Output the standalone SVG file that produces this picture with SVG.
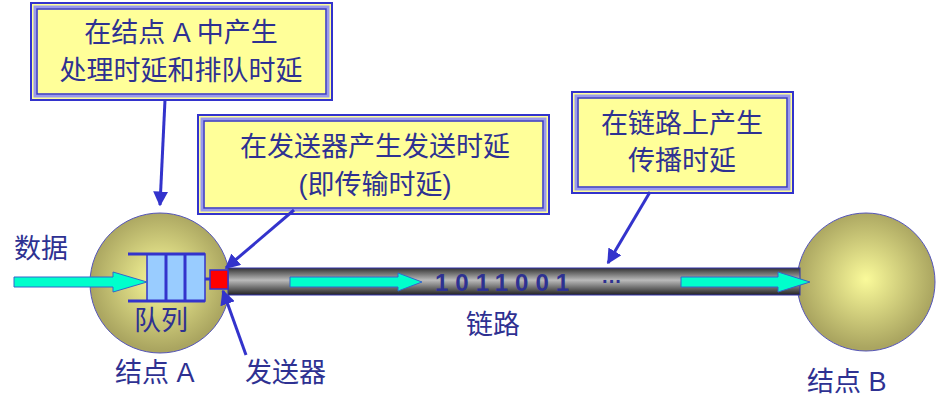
<svg xmlns="http://www.w3.org/2000/svg" width="937" height="419" viewBox="0 0 937 419">
<style>
.t{font-family:"Liberation Sans","Noto Sans CJK SC",sans-serif;fill:#2e3192;font-size:27px}
.bo{fill:#ffff99;stroke:#3333cc;stroke-width:2}
.bi{fill:none;stroke:#3333cc;stroke-width:1.5}
.bm{fill:none;stroke:#9999ee;stroke-width:3}
.ln{stroke:#3333cc;stroke-width:3;fill:none}
.ca{fill:#00ffcc;stroke:#3366cc;stroke-width:1}
</style>
<defs>
<radialGradient id="ball" cx="0.5" cy="0.48" r="0.5">
<stop offset="0" stop-color="#fafa9a"/><stop offset="1" stop-color="#aaa560"/>
</radialGradient>
<linearGradient id="pipe" x1="0" y1="0" x2="0" y2="1">
<stop offset="0" stop-color="#333"/><stop offset="0.45" stop-color="#bbb"/><stop offset="1" stop-color="#222"/>
</linearGradient>
<marker id="ah" viewBox="0 0 10 10" refX="9" refY="5" markerWidth="5" markerHeight="5" orient="auto"><path d="M0,0L10,5L0,10z" fill="#3333cc"/></marker>
</defs>
<g id="nodeA"><circle cx="160" cy="283" r="70" fill="url(#ball)" stroke="#5555bb" stroke-width="1"/></g>
<g id="nodeB"><circle cx="866" cy="282" r="69" fill="url(#ball)" stroke="#5555bb" stroke-width="1"/></g>
<g id="link"><rect x="228" y="268" width="572" height="27" fill="url(#pipe)" stroke="#3333aa" stroke-width="1"/></g>
<g id="queue">
<rect x="147" y="254" width="58" height="47" fill="#99ccff" stroke="#3333cc" stroke-width="1.5"/>
<line x1="166" y1="254" x2="166" y2="301" class="ln" stroke-width="1.5"/>
<line x1="185" y1="254" x2="185" y2="301" class="ln" stroke-width="1.5"/>
<line x1="128" y1="254" x2="205" y2="254" class="ln"/>
<line x1="128" y1="301" x2="205" y2="301" class="ln"/>
<line x1="205" y1="279" x2="210" y2="279" class="ln" stroke-width="2"/>
</g>
<g id="sender"><rect x="210" y="270" width="18" height="19" fill="#ff0000" stroke="#3333cc" stroke-width="1.5"/></g>
<g id="flow">
<path class="ca" d="M14,277H113V272L147,282L113,292V287H14z"/>
<path class="ca" d="M290,277H398V273L422,282L398,291V287H290z"/>
<path class="ca" d="M681,277H778V272L810,282L778,292V287H681z"/>
</g>
<g id="box1"><rect class="bo" x="31" y="3" width="301" height="97"/><rect class="bm" x="35" y="7" width="293" height="89"/><rect class="bi" x="37" y="9" width="289" height="85"/>
<text class="t" x="181" y="42" text-anchor="middle">在结点 A 中产生</text><text class="t" x="181" y="80" text-anchor="middle">处理时延和排队时延</text></g>
<g id="box2"><rect class="bo" x="198" y="115" width="351" height="99"/><rect class="bm" x="202" y="119" width="343" height="91"/><rect class="bi" x="204" y="121" width="339" height="87"/>
<text class="t" x="375" y="156" text-anchor="middle">在发送器产生发送时延</text><text class="t" x="375" y="194" text-anchor="middle">(即传输时延)</text></g>
<g id="box3"><rect class="bo" x="572" y="92" width="221" height="101"/><rect class="bm" x="576" y="96" width="213" height="93"/><rect class="bi" x="578" y="98" width="209" height="89"/>
<text class="t" x="682" y="133" text-anchor="middle">在链路上产生</text><text class="t" x="682" y="170" text-anchor="middle">传播时延</text></g>
<g id="connectors">
<line class="ln" x1="165" y1="100" x2="160" y2="205" marker-end="url(#ah)"/>
<line class="ln" x1="294" y1="210" x2="226" y2="268" marker-end="url(#ah)"/>
<line class="ln" x1="246" y1="355" x2="223" y2="291" marker-end="url(#ah)"/>
<line class="ln" x1="650" y1="192" x2="608" y2="263" marker-end="url(#ah)"/>
</g>
<g id="labels">
<text class="t" x="14" y="258">数据</text>
<text class="t" x="134" y="330">队列</text>
<text class="t" x="115" y="382">结点 A</text>
<text class="t" x="245" y="382">发送器</text>
<text class="t" x="466" y="334">链路</text>
<text class="t" x="807" y="391">结点 B</text>
<text x="435" y="291" style="font-family:'Liberation Sans',sans-serif;font-weight:bold;font-size:24px;fill:#2e3192;letter-spacing:7px">1011001</text>
<text x="602" y="288" style="font-family:'Liberation Sans',sans-serif;font-weight:bold;font-size:20px;fill:#2e3192">···</text>
</g>
</svg>
